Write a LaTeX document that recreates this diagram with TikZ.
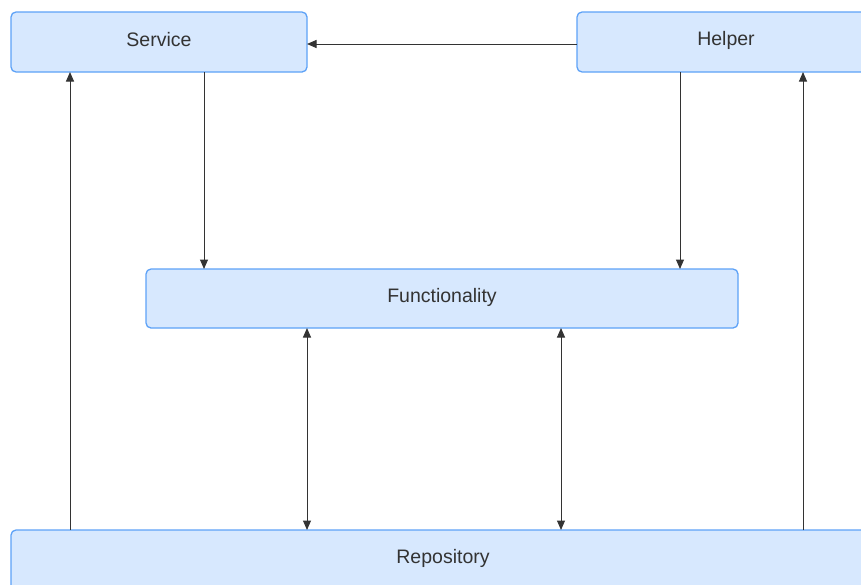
\documentclass[tikz,border=0pt]{standalone}
\usepackage{fontspec}
\setmainfont{Liberation Sans}
\usetikzlibrary{arrows.meta}
\definecolor{boxfill}{HTML}{D7E8FE}
\definecolor{boxline}{HTML}{5DA2F7}
\definecolor{ink}{HTML}{333333}
\tikzset{
  block/.style={draw=boxline, fill=boxfill, line width=1.3pt, rounded corners=5pt},
  label/.style={text=ink, font=\fontsize{19.5}{22}\selectfont, inner sep=0pt},
  link/.style={draw=ink, line width=1pt, -{Triangle[length=9.5pt,width=8pt]}},
  duplex/.style={draw=ink, line width=1pt, {Triangle[length=9.5pt,width=8pt]}-{Triangle[length=9.5pt,width=8pt]}}
}
\begin{document}
\begin{tikzpicture}[x=1pt,y=-1pt]
  \useasboundingbox (0,0) rectangle (861,584);
  \clip (0,0) rectangle (861,584);
  % boxes, given by corner coordinates
  \path[block] (11,12) rectangle (307,72);
  \path[block] (577,12) rectangle (875,72);
  \path[block] (146,269) rectangle (738,328);
  \path[block] (11,530) rectangle (875,610);
  % box labels
  \node[label] (service) at (159,40) {Service};
  \node[label] (helper) at (726,40) {Helper};
  \node[label] (func) at (442,297) {Functionality};
  \node[label] (repo) at (443,558) {Repository};
  % anchor points on the box edges
  \coordinate (sR) at (307,44);  \coordinate (hL) at (577,44);
  \coordinate (sB) at (204,72);  \coordinate (fT1) at (204,269);
  \coordinate (hB) at (680,72);  \coordinate (fT2) at (680,269);
  \coordinate (rT1) at (70,530); \coordinate (sB2) at (70,72);
  \coordinate (rT2) at (803,530);\coordinate (hB2) at (803,72);
  \coordinate (fB1) at (307,328);\coordinate (rT3) at (307,530);
  \coordinate (fB2) at (561,328);\coordinate (rT4) at (561,530);
  % connectors
  \draw[link] (hL) -- (sR);
  \draw[link] (sB) -- (fT1);
  \draw[link] (hB) -- (fT2);
  \draw[link] (rT1) -- (sB2);
  \draw[link] (rT2) -- (hB2);
  \draw[duplex] (fB1) -- (rT3);
  \draw[duplex] (fB2) -- (rT4);
\end{tikzpicture}
\end{document}
